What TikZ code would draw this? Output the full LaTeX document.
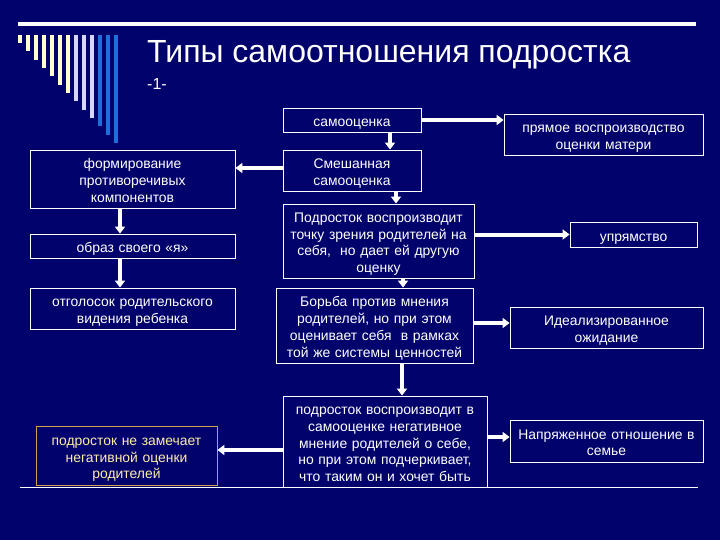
\documentclass[tikz,border=0pt]{standalone}
\usepackage{fontspec}
\setmainfont{Liberation Sans}
\usetikzlibrary{arrows.meta}
\definecolor{bg}{RGB}{2,2,108}
\definecolor{pyel}{RGB}{255,255,204}
\definecolor{lav}{RGB}{215,215,250}
\definecolor{sblue}{RGB}{30,110,220}
\definecolor{gold}{RGB}{204,160,80}
\definecolor{ytext}{RGB}{255,236,170}
\begin{document}
\begin{tikzpicture}[x=1pt,y=-1pt,
  box/.style={draw=white, line width=0.9pt, fill=bg, text=white, align=center, inner sep=0pt,
              minimum width=#1, text width=#1,
              font=\fontsize{13.9}{16.7}\selectfont,
              execute at begin node={\rule{0pt}{17pt}},
              execute at end node={\rule[-4pt]{0pt}{4pt}}},
  arr/.style={draw=white, line width=4pt, -{Triangle[width=10pt,length=7pt]}},
]
\fill[bg] (0,0) rectangle (720,540);
\fill[white] (18,22) rectangle (696,26);
\foreach \i in {0,...,6} \fill[pyel] ({18+8*\i},35) rectangle ({21.5+8*\i},{43+8.33*\i});
\foreach \i in {7,8,9} \fill[lav] ({18+8*\i},35) rectangle ({21.5+8*\i},{43+8.33*\i});
\foreach \i in {10,11,12} \fill[sblue] ({18+8*\i},35) rectangle ({21.5+8*\i},{43+8.33*\i});

\node[anchor=base west, text=white, inner sep=0pt, font=\fontsize{32}{38}\selectfont] (title) at (147,63) {Типы самоотношения подростка};
\node[anchor=base west, text=white, inner sep=0pt, font=\fontsize{16}{19}\selectfont] (num) at (147,90) {-1-};

% centre column
\node[box=138pt, minimum height=24pt] (samo) at (352,120) {самооценка};
\node[box=138pt, minimum height=41pt] (mix) at (352,170.5) {Смешанная\\самооценка};
\node[box=191pt, minimum height=74pt] (repro) at (378.5,241) {Подросток воспроизводит\\точку зрения родителей на\\себя,\ \ но дает ей другую\\оценку};
\node[box=197pt, minimum height=75pt] (fight) at (374.5,325.5) {Борьба против мнения\\родителей, но при этом\\оценивает себя\ \ в рамках\\той же системы ценностей};
\node[box=204pt, minimum height=91pt] (neg) at (385,441.5) {подросток воспроизводит в\\самооценке негативное\\мнение родителей о себе,\\но при этом подчеркивает,\\что таким он и хочет быть};

% left column
\node[box=205pt, minimum height=58pt] (form) at (132.5,179) {формирование\\противоречивых\\компонентов};
\node[box=205pt, minimum height=24pt] (obraz) at (132.5,246) {образ своего «я»};
\node[box=205pt, minimum height=41pt] (echo) at (132.5,308.5) {отголосок родительского\\видения ребенка};
\node[box=181pt, draw=gold, text=ytext, minimum height=59pt] (notice) at (126.5,455.5) {подросток не замечает\\негативной оценки\\родителей};

% right column
\node[box=199pt, minimum height=41pt] (direct) at (603.5,134.5) {прямое воспроизводство\\оценки матери};
\node[box=127pt, minimum height=25pt] (stub) at (633.5,234.5) {упрямство};
\node[box=193pt, minimum height=41pt] (ideal) at (606.5,327.5) {Идеализированное\\ожидание};
\node[box=193pt, minimum height=42pt] (tense) at (606.5,441) {Напряженное отношение в\\семье};

% bottom rule
\coordinate (rl) at (20,487);
\coordinate (rr) at (698,487);
\draw[white, line width=1pt] (rl) -- (rr);

% connectors
\draw[arr] (samo.east) -- (samo.east -| direct.west);
\draw[arr] ([yshift=2.5pt]mix.west) -- ([yshift=2.5pt]mix.west -| form.east);
\draw[arr] ([xshift=38pt]samo.south) -- ([xshift=38pt]samo.south |- mix.north);
\draw[arr] ([xshift=44pt]mix.south) -- ([xshift=44pt]mix.south |- repro.north);
\draw[arr] ([xshift=24.5pt]repro.south) -- ([xshift=24.5pt]repro.south |- fight.north);
\draw[arr] ([xshift=27.5pt]fight.south) -- ([xshift=27.5pt]fight.south |- neg.north);
\draw[arr] (stub.west -| repro.east) -- (stub.west);
\draw[arr] ([yshift=2.5pt]fight.east) -- ([yshift=2.5pt]fight.east -| ideal.west);
\draw[arr] ([yshift=4.5pt]neg.east) -- ([yshift=4.5pt]neg.east -| tense.west);
\draw[arr] ([yshift=-8.5pt]neg.west) -- ([yshift=-8.5pt]neg.west -| notice.east);
\draw[arr] ([xshift=-12.5pt]form.south) -- ([xshift=-12.5pt]form.south |- obraz.north);
\draw[arr] ([xshift=-12.5pt]obraz.south) -- ([xshift=-12.5pt]obraz.south |- echo.north);
\end{tikzpicture}
\end{document}
